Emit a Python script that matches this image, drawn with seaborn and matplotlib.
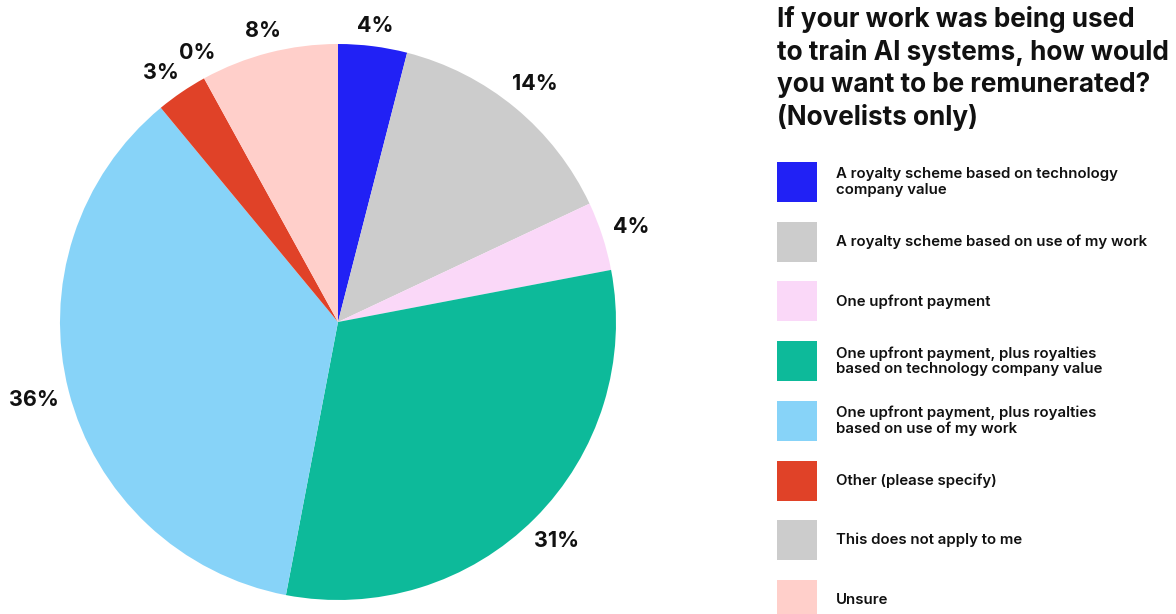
import matplotlib
matplotlib.use("Agg")
import numpy as np
import matplotlib.pyplot as plt
from matplotlib.patches import Rectangle
import seaborn as sns

categories = [
    "A royalty scheme based on technology\ncompany value",
    "A royalty scheme based on use of my work",
    "One upfront payment",
    "One upfront payment, plus royalties\nbased on technology company value",
    "One upfront payment, plus royalties\nbased on use of my work",
    "Other (please specify)",
    "This does not apply to me",
    "Unsure",
]
shares = [4, 14, 4, 31, 36, 3, 0, 8]
colors = ["#2121F5", "#CCCCCC", "#FAD8F8", "#0DBA9A", "#87D3F8", "#E04228", "#CCCCCC", "#FFCFCA"]
title = "If your work was being used\nto train AI systems, how would\nyou want to be remunerated?\n(Novelists only)"

sns.set_theme(style="white")
plt.rcParams["font.family"] = ["Inter", "DejaVu Sans"]

W, H = 1176, 614
fig = plt.figure(figsize=(W / 100, H / 100), dpi=100)
fig.patch.set_facecolor("white")

# pie
cx, cy, r = 338, 322, 278
ax = fig.add_axes([(cx - r) / W, (H - cy - r) / H, 2 * r / W, 2 * r / H])
palette = sns.color_palette(colors)
wedges, _, autotexts = ax.pie(
    shares,
    colors=palette,
    startangle=90,
    counterclock=False,
    radius=1.0,
    autopct="%.0f%%",
    pctdistance=1.1,
    wedgeprops=dict(linewidth=0),
    textprops=dict(fontsize=15.5, fontweight="bold", color="#111111"),
)
ax.set_xlim(-1, 1)
ax.set_ylim(-1, 1)
ax.set_aspect("equal")
ax.axis("off")

# place each percentage label just outside the rim, nudging neighbours apart
fig.canvas.draw()
renderer = fig.canvas.get_renderer()
px = 1.0 / r  # one pixel in data units
gap = 10 * px
half = []
for t in autotexts:
    bb = t.get_window_extent(renderer)
    half.append((bb.width / 2 * px, bb.height / 2 * 0.8 * px))
theta = np.array([np.deg2rad((w.theta1 + w.theta2) / 2) for w in wedges])


def centre(i, a):
    ux, uy = np.cos(a), np.sin(a)
    hw, hh = half[i]
    d = 1 + gap + hw * abs(ux) + hh * abs(uy)
    return ux * d, uy * d


pad = 4 * px
for _ in range(200):
    moved = False
    for i in range(len(theta) - 1):
        x0, y0 = centre(i, theta[i])
        x1, y1 = centre(i + 1, theta[i + 1])
        ox = half[i][0] + half[i + 1][0] + pad - abs(x0 - x1)
        oy = half[i][1] + half[i + 1][1] + pad - abs(y0 - y1)
        if ox > 0 and oy > 0:
            theta[i] += np.deg2rad(0.2)
            theta[i + 1] -= np.deg2rad(0.2)
            moved = True
    if not moved:
        break

for i, t in enumerate(autotexts):
    t.set_position(centre(i, theta[i]))
    t.set_ha("center")
    t.set_va("center")

# title and legend, laid out in pixel coordinates
lax = fig.add_axes([0, 0, 1, 1])
lax.set_xlim(0, W)
lax.set_ylim(H, 0)
lax.axis("off")
lax.patch.set_alpha(0)

lax.text(777, 6, title, ha="left", va="top", fontsize=18.8,
         fontweight="bold", color="#111111", linespacing=1.29)

top0, step, box = 162, 59.7, 40
for i, (label, col) in enumerate(zip(categories, palette)):
    y = top0 + i * step
    lax.add_patch(Rectangle((777, y), box, box, facecolor=col, linewidth=0))
    lax.text(836, y + box / 2, label, ha="left", va="center", fontsize=10.8,
             fontweight="semibold", color="#111111", linespacing=1.15)

fig.savefig("out.png", dpi=100, facecolor="white")
